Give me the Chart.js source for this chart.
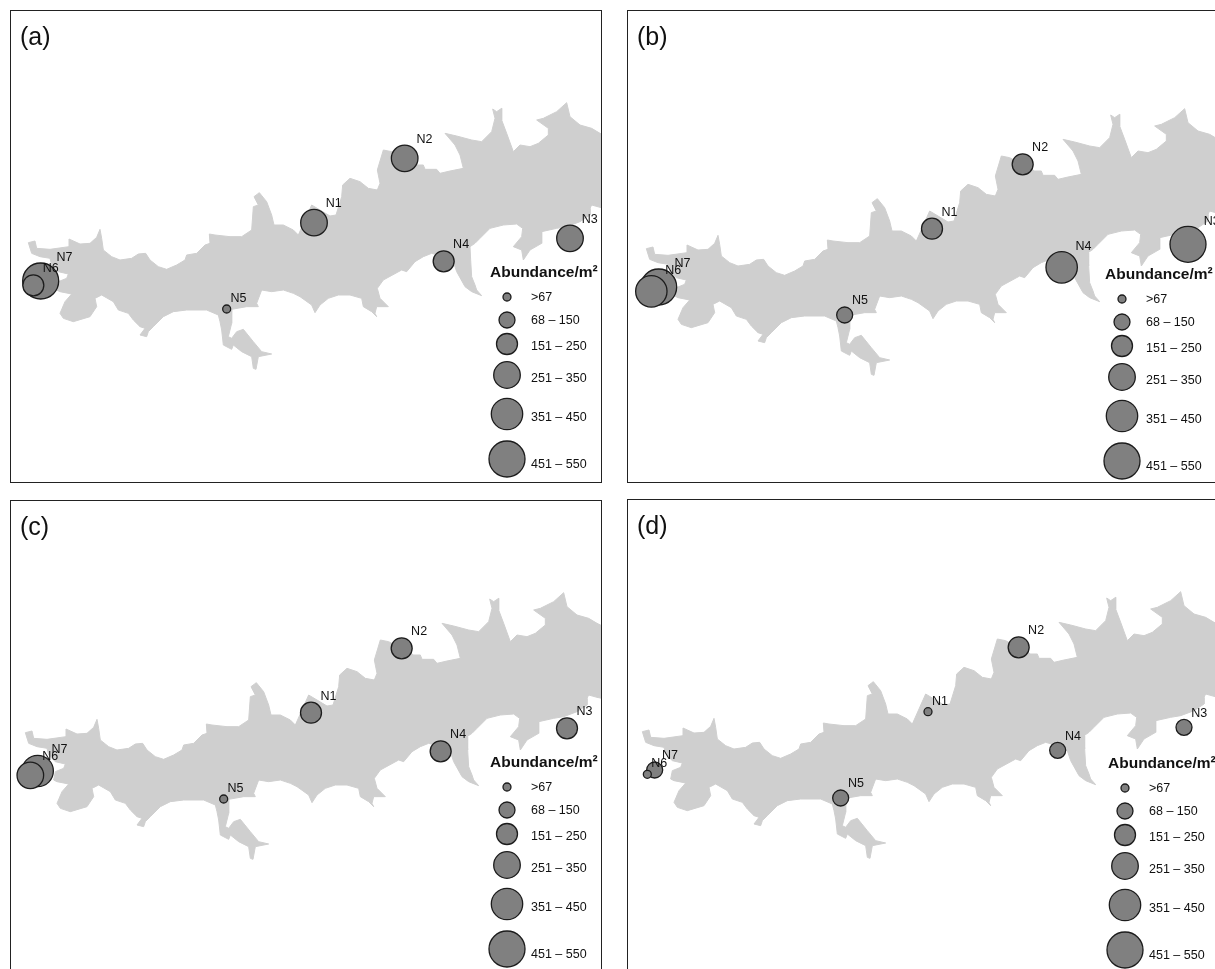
<!DOCTYPE html>
<html>
<head>
<meta charset="utf-8">
<title>Abundance maps</title>
<script src="https://cdn.jsdelivr.net/npm/chart.js@4"></script>
<style>
  html, body { margin: 0; padding: 0; background: #fff; overflow: hidden; width: 1215px; height: 969px; }
  .panel { position: absolute; width: 590px; height: 471px; border: 1px solid #222; background: #fff; box-sizing: content-box; }
  canvas { display: block; }
</style>
</head>
<body>
<script>
// === Datos ===
const panelNames = ["(a)", "(b)", "(c)", "(d)"];
const stationNames = ["N1", "N2", "N3", "N4", "N5", "N6", "N7"];
const stationX = [942, 1214, 1710, 1331, 680, 100, 122];
const stationY = [398, 205, 445, 514, 657, 586, 573];

const abundanceA = [300, 300, 300, 200, 50, 200, 500];
const abundanceB = [200, 200, 500, 400, 110, 400, 500];
const abundanceC = [200, 200, 200, 200, 50, 300, 400];
const abundanceD = [50, 200, 110, 110, 110, 50, 110];

const legendTitle = "Abundance/m\u00B2";
const classLabels = [">67", "68 \u2013 150", "151 \u2013 250", "251 \u2013 350", "351 \u2013 450", "451 \u2013 550"];
const classUpper = [67, 150, 250, 350, 450, 550];
const classRadius = [4, 8, 10.5, 13.3, 15.7, 18];

// shoreline, in map units
const shoreX = [85,105,110,150,207,207,240,270,290,300,305,310,335,360,395,415,437,450,475,500,530,555,560,590,615,630,628,645,690,725,755,760,775,762,778,800,815,822,850,880,895,
  935,960,990,1008,1025,1028,1050,1080,1105,1132,1140,1132,1150,1175,1250,1270,1275,1310,1320,1350,1390,1380,1365,1335,1370,1415,1445,1475,1485,1478,1490,1505,1505,1520,1540,1560,1590,1615,1645,1645,1610,1630,1670,1700,1710,1740,1775,1800,1840,
  1840,1800,1775,1770,1770,1740,1700,1670,1625,1625,1590,1570,1565,1540,1565,1568,1550,1510,1470,1440,1425,1410,1412,1415,1425,1430,1445,1415,1395,1370,1360,1330,1295,1270,1245,1220,1205,1150,1132,1140,1165,1130,1125,1130,1115,1090,1085,1050,1015,985,960,945,935,900,
  880,850,815,785,770,775,740,695,695,685,695,710,730,760,785,815,775,768,760,755,725,700,695,670,665,660,655,620,560,520,490,460,445,440,420,435,420,400,385,355,340,305,285,290,270,220,190,180,195,215,180,170,175,200,205,175,155,150,120,95,85];
const shoreY = [458,453,475,478,470,447,462,460,442,418,445,480,500,510,505,492,490,510,530,538,525,510,495,490,465,460,432,435,440,440,420,350,345,320,308,335,375,405,405,420,435,
  345,360,378,375,320,285,265,275,295,300,280,240,180,185,225,225,238,238,250,243,235,195,165,130,138,150,155,125,85,57,65,55,90,130,185,165,170,160,135,115,90,85,65,38,80,105,115,130,150,
  360,352,345,355,375,395,410,415,425,460,480,510,480,470,440,415,402,405,415,445,460,470,510,560,585,600,617,605,590,545,515,500,490,500,515,545,540,570,595,625,650,650,670,680,665,650,625,615,615,625,645,668,645,620,
  610,600,605,600,640,650,650,658,700,740,745,725,718,755,785,792,800,838,835,800,785,765,778,765,720,695,675,660,660,665,680,710,725,740,735,715,710,690,670,660,635,615,625,650,680,695,685,670,635,612,605,600,575,565,552,545,525,505,500,490,458];

// === Posiciones de cada panel (px de pagina) ===
const panelLeft = [10, 627, 10, 627];
const panelTop = [10, 10, 500, 499];
const mapDx = [0, 618, -3, 614];
const mapDy = [0, 6, 490, 489];
const legendDx = [0, 615, 0, 618];
const legendDy = [0, 2, 490, 491];
const legendKeyX = 507;
const legendKeyY = [297, 320, 344, 375, 414, 459];
const legendTextY = [297, 320, 346, 378, 417, 464];

const panelW = 590, panelH = 471;
const abundances = [abundanceA, abundanceB, abundanceC, abundanceD];

function radiusOf(value) {
  const i = classUpper.findIndex(u => value <= u);
  return classRadius[i < 0 ? classRadius.length - 1 : i];
}

// draws the station names, panel letter and legend text
const labelsPlugin = {
  id: "mapLabels",
  afterDatasetsDraw(chart, args, opts) {
    const { ctx, scales } = chart;
    const i = opts.index;
    ctx.save();
    ctx.fillStyle = "#111";

    ctx.textAlign = "center";
    ctx.textBaseline = "middle";
    ctx.font = "12.5px 'Liberation Sans'";
    stationNames.forEach((name, s) => {
      const r = radiusOf(abundances[i][s]);
      const px = scales.x.getPixelForValue(stationX[s]) + 8.5 + r * 0.85;
      const py = scales.y.getPixelForValue(stationY[s]) - 7 - r * 0.9;
      ctx.fillText(name, px, py);
    });

    const left = panelLeft[i], top = panelTop[i];
    ctx.textAlign = "left";
    ctx.font = "25px 'Liberation Sans'";
    ctx.fillText(panelNames[i], 9, 27);

    ctx.font = "bold 15.5px 'Liberation Sans'";
    ctx.fillText(legendTitle, 489 + legendDx[i] - left, 272 + legendDy[i] - top);
    ctx.font = "12.5px 'Liberation Sans'";
    classLabels.forEach((label, c) => {
      ctx.fillText(label, 530 + legendDx[i] - left, legendTextY[c] + legendDy[i] - top);
    });
    ctx.restore();
  }
};

panelNames.forEach((name, i) => {
  const box = document.createElement("div");
  box.className = "panel";
  box.style.left = panelLeft[i] + "px";
  box.style.top = panelTop[i] + "px";
  const canvas = document.createElement("canvas");
  canvas.width = panelW;
  canvas.height = panelH;
  box.appendChild(canvas);
  document.body.appendChild(box);

  const toMapX = px => (px - mapDx[i]) * 3;
  const toMapY = py => (py - mapDy[i] - 90) * 3;

  // N7 first so the smaller N6 stays on top of it
  const stationPoints = stationNames.map((n, s) => ({
    x: stationX[s], y: stationY[s], r: radiusOf(abundances[i][s])
  })).reverse();

  const legendPoints = classLabels.map((l, c) => ({
    x: toMapX(legendKeyX + legendDx[i]),
    y: toMapY(legendKeyY[c] + legendDy[i]),
    r: classRadius[c]
  }));

  // the canvas sits 1px inside the panel border
  const left = panelLeft[i] + 1, top = panelTop[i] + 1;

  new Chart(canvas, {
    type: "bubble",
    data: {
      datasets: [
        {
          type: "line",
          label: "Shore",
          data: shoreX.map((x, k) => ({ x, y: shoreY[k] })),
          fill: "shape",
          backgroundColor: "#cfcfcf",
          borderColor: "#cfcfcf",
          borderWidth: 1,
          pointRadius: 0,
          tension: 0,
          order: 3
        },
        {
          label: "Stations",
          data: stationPoints,
          backgroundColor: "#808080",
          borderColor: "#1c1c1c",
          borderWidth: 1.3,
          order: 1
        },
        {
          label: "Legend",
          data: legendPoints,
          backgroundColor: "#808080",
          borderColor: "#1c1c1c",
          borderWidth: 1.3,
          order: 2
        }
      ]
    },
    options: {
      responsive: false,
      animation: false,
      layout: { padding: 0, autoPadding: false },
      plugins: { legend: { display: false }, tooltip: { enabled: false }, mapLabels: { index: i } },
      scales: {
        x: { type: "linear", display: false, min: toMapX(left), max: toMapX(left + panelW) },
        y: { type: "linear", display: false, reverse: true, min: toMapY(top), max: toMapY(top + panelH) }
      }
    },
    plugins: [labelsPlugin]
  });
});
</script>
</body>
</html>
